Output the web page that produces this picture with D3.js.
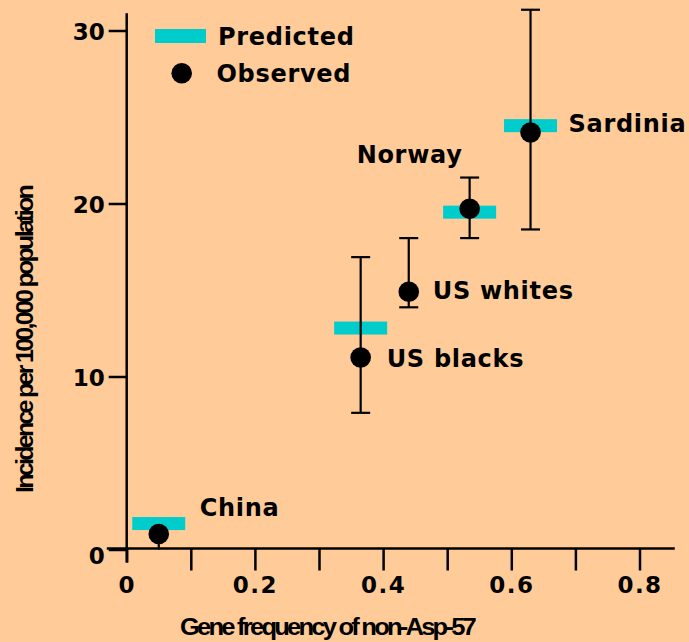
<!DOCTYPE html>
<html>
<head>
<meta charset="utf-8">
<script src="https://cdn.jsdelivr.net/npm/d3@7"></script>
<style>
  html, body { margin: 0; padding: 0; background: #FFCC99; }
  svg { display: block; }
  text { font-family: "DejaVu Sans", sans-serif; font-weight: bold; fill: #000; }
</style>
</head>
<body>
<svg id="chart" width="689" height="642"></svg>
<script>
// ---- data ----
const categories = ["China", "US blacks", "US whites", "Norway", "Sardinia"];
const geneFreq   = [0.05, 0.365, 0.44, 0.535, 0.63];
const observed   = [0.9, 11.1, 14.9, 19.7, 24.1];
const errLow     = [0.0, 7.9, 14.0, 18.0, 18.5];
const errHigh    = [0.9, 16.9, 18.0, 21.5, 31.2];
const predicted  = [1.5, 12.8, null, 19.5, 24.5];
const xTickValues = [0, 0.1, 0.2, 0.3, 0.4, 0.5, 0.6, 0.7, 0.8];
const xTickLabels = ["0", "", "0.2", "", "0.4", "", "0.6", "", "0.8"];
const yTickValues = [0, 10, 20, 30];
const yTickLabels = ["0", "10", "20", "30"];
const legendLabels = ["Predicted", "Observed"];
const xTitle = "Gene frequency of non-Asp-57";
const yTitle = "Incidence per 100,000 population";

// ---- layout (label offsets in px relative to observed point) ----
const labelOffsets = [[41, -18], [26, 10], [24, 7], [-113, -46], [38, -1]];

const svg = d3.select("#chart");
const CYAN = "#00CCCC";

const x = d3.scaleLinear().domain([0, 0.8]).range([126.7, 639.5]);
const y = d3.scaleLinear().domain([0, 30]).range([549.5, 30.5]);

// ---- axes ----
const yAxis = d3.axisLeft(y).tickValues(yTickValues).tickSize(18)
  .tickFormat((d, i) => yTickLabels[i]);
const gy = svg.append("g").attr("transform", `translate(${x(0)},0)`).call(yAxis);
gy.select(".domain").remove();
gy.selectAll(".tick line").attr("stroke", "#000").attr("stroke-width", 2.5);
gy.selectAll(".tick text")
  .attr("x", -22).attr("dy", null)
  .attr("y", (d) => d === 0 ? 14 : 9)
  .attr("text-anchor", "end")
  .style("font-size", "23px").style("font-family", "DejaVu Sans").style("font-weight", "bold");

const xAxis = d3.axisBottom(x).tickValues(xTickValues).tickSize(22)
  .tickFormat((d, i) => xTickLabels[i]);
const gx = svg.append("g").attr("transform", `translate(0,${y(0) - 1})`).call(xAxis);
gx.select(".domain").remove();
gx.selectAll(".tick line").attr("stroke", "#000").attr("stroke-width", 2.5)
  .attr("y2", (d) => d === 0 ? 14 : 22);
gx.selectAll(".tick text")
  .attr("y", 44).attr("dy", null)
  .attr("text-anchor", "middle")
  .style("letter-spacing", "1.5px")
  .style("font-size", "23px").style("font-family", "DejaVu Sans").style("font-weight", "bold");

// axis lines
svg.append("line")
  .attr("x1", x(0)).attr("x2", x(0))
  .attr("y1", y(31)).attr("y2", y(0) + 13)
  .attr("stroke", "#000").attr("stroke-width", 2.5);
svg.append("line")
  .attr("x1", x(-0.031)).attr("x2", x(0.855))
  .attr("y1", y(0) - 1).attr("y2", y(0) - 1)
  .attr("stroke", "#000").attr("stroke-width", 2.5);

// axis titles
svg.append("text")
  .attr("x", 327).attr("y", 635)
  .attr("text-anchor", "middle")
  .attr("textLength", 294).attr("lengthAdjust", "spacingAndGlyphs")
  .style("font-family", "'Liberation Sans Narrow', 'Liberation Sans', sans-serif")
  .style("font-size", "23px").style("letter-spacing", "-2.5px")
  .text(xTitle);
svg.append("text")
  .attr("transform", "translate(33,340) rotate(-90)")
  .attr("text-anchor", "middle")
  .attr("textLength", 306).attr("lengthAdjust", "spacingAndGlyphs")
  .style("font-family", "'Liberation Sans Narrow', 'Liberation Sans', sans-serif")
  .style("font-size", "23px").style("letter-spacing", "-2.5px")
  .text(yTitle);

// ---- data marks ----
const rows = categories.map((c, i) => ({
  name: c, gx: geneFreq[i], obs: observed[i], lo: errLow[i], hi: errHigh[i],
  pred: predicted[i], off: labelOffsets[i]
}));

// predicted bars
svg.append("g").selectAll("rect")
  .data(rows.filter(d => d.pred !== null))
  .join("rect")
  .attr("x", d => x(d.gx) - 26.5)
  .attr("y", d => y(d.pred) - 6.5)
  .attr("width", 53).attr("height", 13)
  .attr("fill", CYAN);

// error bars
const eg = svg.append("g").attr("stroke", "#000").attr("stroke-width", 2.2);
rows.forEach(d => {
  eg.append("line").attr("x1", x(d.gx)).attr("x2", x(d.gx))
    .attr("y1", y(d.lo)).attr("y2", y(d.hi));
  if (d.lo > 0) {
    eg.append("line").attr("x1", x(d.gx) - 9.5).attr("x2", x(d.gx) + 9.5)
      .attr("y1", y(d.lo)).attr("y2", y(d.lo));
  }
  if (d.hi > d.obs + 1) {
    eg.append("line").attr("x1", x(d.gx) - 9.5).attr("x2", x(d.gx) + 9.5)
      .attr("y1", y(d.hi)).attr("y2", y(d.hi));
  }
});

// observed points
svg.append("g").selectAll("circle")
  .data(rows)
  .join("circle")
  .attr("cx", d => x(d.gx)).attr("cy", d => y(d.obs))
  .attr("r", 10.3).attr("fill", "#000");

// point labels
svg.append("g").selectAll("text")
  .data(rows)
  .join("text")
  .attr("x", d => x(d.gx) + d.off[0])
  .attr("y", d => y(d.obs) + d.off[1])
  .style("font-size", "24px").style("letter-spacing", "0.7px")
  .text(d => d.name);

// ---- legend ----
const lg = svg.append("g");
lg.append("rect").attr("x", 155).attr("y", 29).attr("width", 51).attr("height", 14).attr("fill", CYAN);
lg.append("circle").attr("cx", 181.7).attr("cy", 73.3).attr("r", 10.3).attr("fill", "#000");
lg.append("text").attr("x", 218).attr("y", 45)
  .style("font-size", "24px").style("letter-spacing", "0.7px").text(legendLabels[0]);
lg.append("text").attr("x", 216.5).attr("y", 82)
  .style("font-size", "24px").style("letter-spacing", "0.7px").text(legendLabels[1]);
</script>
</body>
</html>
